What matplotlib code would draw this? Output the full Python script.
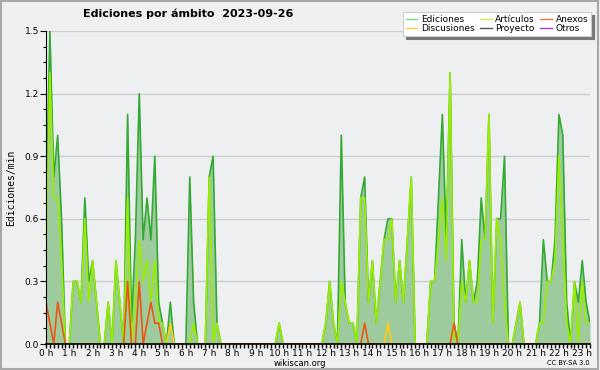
import numpy as np
import matplotlib
matplotlib.use("Agg")
import matplotlib.pyplot as plt
from matplotlib.lines import Line2D
from matplotlib.patches import Rectangle

# edits per minute, one value per 10-minute bin starting 00:00 (up to 23:20)
ediciones = [0.6, 1.5, 0.8, 1.0, 0.6, 0, 0, 0.3, 0.3, 0.2, 0.7, 0.3, 0.4, 0.2, 0, 0, 0.2, 0, 0.4, 0.2,
             0, 1.1, 0.1, 0.5, 1.2, 0.5, 0.7, 0.5, 0.9, 0.2, 0.1, 0, 0.2, 0, 0, 0, 0, 0.8, 0.2, 0,
             0, 0, 0.8, 0.9, 0.1, 0, 0, 0, 0, 0, 0, 0, 0, 0, 0, 0, 0, 0, 0, 0,
             0.1, 0, 0, 0, 0, 0, 0, 0, 0, 0, 0, 0, 0.1, 0.3, 0.1, 0, 1.0, 0.2, 0.1, 0.1,
             0, 0.7, 0.8, 0.2, 0.4, 0.1, 0.3, 0.5, 0.6, 0.6, 0.2, 0.4, 0.2, 0.5, 0.8, 0, 0, 0, 0, 0.3,
             0.3, 0.7, 1.1, 0.5, 1.3, 0.1, 0, 0.5, 0.2, 0.4, 0.2, 0.3, 0.7, 0.5, 1.1, 0.1, 0.6, 0.6, 0.9, 0,
             0, 0.1, 0.2, 0, 0, 0, 0, 0.1, 0.5, 0.3, 0.3, 0.5, 1.1, 1.0, 0.2, 0, 0.3, 0.2, 0.4, 0.2,
             0.1]
articulos = [0.4, 1.3, 0.7, 0.7, 0.4, 0, 0, 0.3, 0.3, 0.2, 0.6, 0.2, 0.4, 0.2, 0, 0, 0.2, 0, 0.4, 0.2,
             0, 0.7, 0, 0.2, 0.5, 0.3, 0.4, 0.2, 0.4, 0.1, 0.1, 0, 0, 0, 0, 0, 0, 0, 0.1, 0,
             0, 0, 0.8, 0, 0.1, 0, 0, 0, 0, 0, 0, 0, 0, 0, 0, 0, 0, 0, 0, 0,
             0.1, 0, 0, 0, 0, 0, 0, 0, 0, 0, 0, 0, 0.1, 0.3, 0.1, 0, 0.3, 0.2, 0.1, 0.1,
             0, 0.7, 0.7, 0.2, 0.4, 0.1, 0.3, 0.5, 0.5, 0.6, 0.2, 0.4, 0.2, 0.5, 0.8, 0, 0, 0, 0, 0.3,
             0.3, 0.5, 0.7, 0.4, 1.3, 0, 0, 0.3, 0.2, 0.4, 0.2, 0.2, 0.5, 0.5, 1.1, 0.1, 0.6, 0.5, 0.2, 0,
             0, 0.1, 0.2, 0, 0, 0, 0, 0.1, 0.1, 0.3, 0.3, 0.4, 0.9, 0.5, 0.1, 0, 0.3, 0, 0.3, 0.1,
             0.1]
n = len(ediciones)
anexos = [0.0] * n
for i, v in {0: 0.2, 1: 0.1, 3: 0.2, 4: 0.1, 21: 0.3, 24: 0.3, 26: 0.1, 27: 0.2, 28: 0.1, 29: 0.1,
             82: 0.1, 105: 0.1}.items():
    anexos[i] = v
discusiones = [0.0] * n
discusiones[32] = 0.1
discusiones[88] = 0.1
proyecto = [0.0] * n
otros = [0.0] * n

hours = np.arange(n) / 6.0
hour_labels = ['%d h' % h for h in range(24)]

fig = plt.figure(figsize=(6, 3.7), dpi=100, facecolor='#f0f0f0')
fig.patches.append(Rectangle((0.002, 0.003), 0.995, 0.994, transform=fig.transFigure,
                             fill=False, edgecolor='#a8a8a8', lw=1.5))
ax = fig.add_axes([46 / 600, 1 - 344 / 370, 544 / 600, 313 / 370])
ax.set_facecolor('#eeeff1')

ax.fill_between(hours, ediciones, color='#9ecb9e', lw=0, zorder=2)
ax.plot(hours, otros, color='#9944ee', lw=1, zorder=3)
ax.plot(hours, proyecto, color='#555555', lw=1, zorder=3)
ax.plot(hours, ediciones, color='#33aa33', lw=1.2, zorder=4)
ax.plot(hours, discusiones, color='#ffcc11', lw=1.2, zorder=5)
ax.plot(hours, articulos, color='#99ee00', lw=1.2, zorder=5)
ax.plot(hours, anexos, color='#ee5511', lw=1.2, zorder=6)

ax.set_xlim(0, (n - 1) / 6.0)
ax.set_ylim(0, 1.5)
ax.set_xticks(range(24))
ax.set_xticklabels(hour_labels)
ax.set_xticks(np.arange(0, n) / 6.0, minor=True)
ax.set_yticks([0, 0.3, 0.6, 0.9, 1.2, 1.5])
ax.set_yticklabels(['0.0', '0.3', '0.6', '0.9', '1.2', '1.5'])
ax.set_yticks(np.arange(0, 1.51, 0.075), minor=True)
ax.tick_params(axis='x', which='both', length=3, width=1, labelsize=6.5, pad=0.5)
ax.tick_params(axis='y', which='major', length=4, width=0.8, labelsize=6.5, pad=1)
ax.tick_params(axis='y', which='minor', length=2.5, width=0.8)
ax.grid(axis='y', which='major', color='#cccccc', lw=1, zorder=1)
ax.set_axisbelow(True)
for s in ('top', 'right'):
    ax.spines[s].set_visible(False)
ax.spines['left'].set_zorder(10)
ax.spines['bottom'].set_zorder(10)
ax.spines['bottom'].set_linewidth(1.2)
ax.set_ylabel('Ediciones/min', family='DejaVu Sans Mono', fontsize=7, labelpad=6)

fig.text(188 / 600, 1 - 14 / 370, 'Ediciones por ámbito  2023-09-26', ha='center', va='center',
         fontsize=8, fontweight='bold')
fig.text(300 / 600, 1 - 363 / 370, 'wikiscan.org', ha='center', va='center', fontsize=6)
fig.text(590 / 600, 1 - 363 / 370, 'CC BY-SA 3.0', ha='right', va='center', fontsize=4.8)

handles = [Line2D([], [], color='#88cc88', lw=1), Line2D([], [], color='#ffcc44', lw=1),
           Line2D([], [], color='#ccee55', lw=1), Line2D([], [], color='#555555', lw=1),
           Line2D([], [], color='#ee7744', lw=1), Line2D([], [], color='#9944ee', lw=1)]
labels = ['Ediciones', 'Discusiones', 'Artículos', 'Proyecto', 'Anexos', 'Otros']
leg = fig.legend(handles, labels, ncol=3, loc='upper right', bbox_to_anchor=(591 / 600, 1 - 12 / 370),
                 borderaxespad=0, fontsize=6.5, handlelength=1.3, handletextpad=0.4,
                 columnspacing=0.6, labelspacing=0.05, borderpad=0.3, fancybox=False,
                 framealpha=1, edgecolor='#cccccc', shadow={'color': '#777777', 'alpha': 1})
leg.get_frame().set_linewidth(0.8)

fig.savefig('out.png', dpi=100, facecolor=fig.get_facecolor())
